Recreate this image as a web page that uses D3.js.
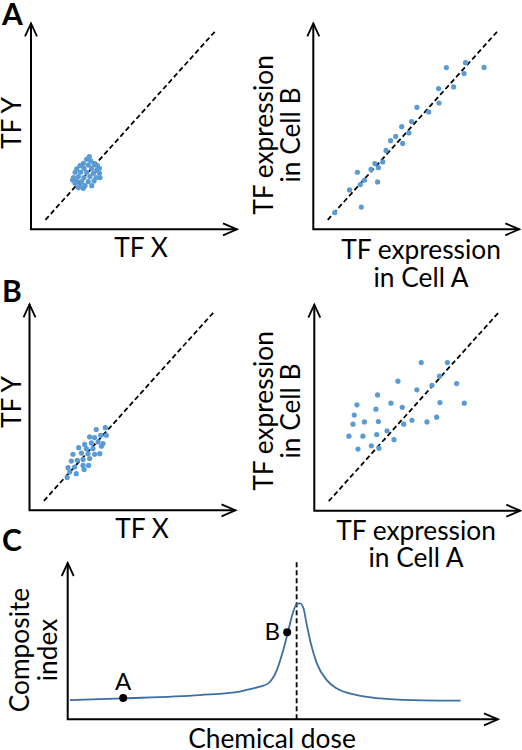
<!DOCTYPE html>
<html><head><meta charset="utf-8">
<script src="https://cdn.jsdelivr.net/npm/d3@7"></script>
<style>body{margin:0;background:#fff}svg{display:block}</style>
</head><body>
<script>
// ---------------- DATA ----------------
// identity (dashed) line in panel units
const diagX = [7, 90];
const diagY = [4.6, 96.8];

// Panel A left: tight cluster
const aLeftX = [27.0,29.0,25.4,30.6,23.8,27.8,32.2,22.2,25.7,29.5,31.9,21.4,24.1,27.0,30.3,33.2,20.6,23.0,25.7,28.6,31.6,22.2,24.6,27.8,30.6,23.8,26.2,29.5,21.4,33.2,28.3,33.5,20.2,23.0,25.4];
const aLeftY = [34.0,33.2,32.0,32.0,30.9,31.2,30.9,29.3,29.6,29.6,28.6,27.7,27.7,27.7,27.2,27.2,25.1,25.6,25.1,25.6,25.1,23.5,23.1,23.1,23.5,21.5,21.2,21.2,22.3,29.6,35.3,25.1,23.9,20.2,19.9];

// Panel A right: cells A vs B correlated
const aRightX = [21.4,17.6,23.3,10.4,22.8,24.8,31.2,28.0,29.9,31.6,33.7,35.3,37.5,40.0,43.4,42.9,46.4,47.7,50.3,56.0,60.8,61.0,64.6,68.1,73.2,73.9,82.9];
const aRightY = [27.7,19.1,10.8,8.1,21.7,23.8,23.0,29.1,31.9,29.9,32.7,38.3,43.0,45.1,41.7,49.8,46.8,52.3,59.2,57.0,68.3,61.3,78.5,69.1,75.6,80.9,78.6];

// Panel B left: looser cluster
const bLeftX = [32.4,36.8,29.2,31.6,34.6,37.3,26.8,30.0,33.3,35.7,23.9,27.6,30.8,34.9,21.1,25.2,28.4,31.6,34.1,20.3,23.2,26.0,29.2,18.7,21.9,26.0,28.7,19.5,22.7,26.5,18.3];
const bLeftY = [39.2,40.1,35.6,35.3,36.4,36.4,32.0,32.7,33.2,32.4,30.4,29.9,29.9,31.1,27.2,27.8,27.5,27.2,27.5,23.9,24.3,24.6,25.1,20.7,21.0,21.8,21.8,18.6,17.8,19.8,15.9];

// Panel B right: cells A vs B weakly correlated
const bRightX = [51.9,64.6,40.6,60.8,69.1,57.1,49.8,30.7,20.7,29.9,37.2,42.7,61.0,72.8,19.4,18.8,24.3,31.1,43.4,47.4,54.7,59.4,16.8,23.6,30.3,35.3,38.7,27.7,31.4,21.2];
const bRightY = [71.9,71.9,62.9,65.3,61.7,60.9,58.7,56.2,51.4,49.3,52.2,50.2,52.5,52.2,46.4,42.0,43.1,43.3,42.0,43.9,43.1,45.4,36.2,36.2,37.0,38.8,34.5,31.5,30.3,29.9];

// Panel C: composite index vs chemical dose
const doseValues  = [0.5,12.9,30.7,40.0,43.1,44.7,46.6,48.6,50.1,51.3,52.3,53.2,54.0,54.8,55.5,56.5,57.9,60.2,62.5,67.2,72.6,80.3,91.3];
const indexValues = [12.3,13.4,15.5,17.7,19.8,20.9,23.0,31.5,44.3,57.1,67.8,73.6,74.2,71.0,61.4,48.6,35.8,25.1,19.8,15.5,13.4,12.3,11.9];
const markerLabels = ["A", "B"];
const markerDose   = [12.9, 51.0];
const markerIndex  = [13.6, 55.7];
const thresholdDose = 53.2;

const panelLetters = ["A", "B", "C"];

// ---------------- DRAW ----------------
const W = 522, H = 750;
const FONT = "Lato, 'Open Sans', sans-serif";
const FS = 26.3;
const dotColor = "#5b9bd5";
const curveColor = "#3d6fa5";

const svg = d3.select("body").append("svg").attr("width", W).attr("height", H);

function arrowAxes(g, x, y) {
  const [x0, x1] = x.range();
  const [y0, y1] = y.range();
  g.append("path").attr("d", `M${x0},${y1}L${x0},${y0}L${x1},${y0}`)
    .attr("fill", "none").attr("stroke", "#000").attr("stroke-width", 2);
  g.append("path").attr("d", `M${x0-6},${y1+13}L${x0},${y1}L${x0+6},${y1+13}`)
    .attr("fill", "none").attr("stroke", "#000").attr("stroke-width", 1.8);
  g.append("path").attr("d", `M${x1-14},${y0-6}L${x1},${y0}L${x1-14},${y0+6}`)
    .attr("fill", "none").attr("stroke", "#000").attr("stroke-width", 1.8);
}

// multi-line label as one text element with tspans; (x,y) = anchor of the last line's baseline
function text(lines, x, y, opts) {
  const g = svg.append("g").attr("transform", `translate(${x},${y})` + (opts.rotate ? " rotate(-90)" : ""));
  const t = g.append("text").attr("text-anchor", "middle").attr("font-family", FONT)
    .attr("font-size", opts.size || FS).attr("fill", "#000");
  lines.forEach((s, i) => {
    t.append("tspan").attr("x", 0).attr("y", (i - (lines.length - 1)) * opts.lh).text(s);
  });
}

const scatterPanels = [
  {ox: 31,    oy: 229.3, xs: aLeftX,  ys: aLeftY},
  {ox: 313.3, oy: 229.3, xs: aRightX, ys: aRightY},
  {ox: 29.5,  oy: 510.3, xs: bLeftX,  ys: bLeftY},
  {ox: 314.3, oy: 510.7, xs: bRightX, ys: bRightY}
];
const LEN = 206;

scatterPanels.forEach(p => {
  const x = d3.scaleLinear().domain([0, 100]).range([p.ox, p.ox + LEN]);
  const y = d3.scaleLinear().domain([0, 100]).range([p.oy, p.oy - LEN]);
  const g = svg.append("g");
  arrowAxes(g, x, y);
  g.append("line")
    .attr("x1", x(diagX[0])).attr("y1", y(diagY[0]))
    .attr("x2", x(diagX[1])).attr("y2", y(diagY[1]))
    .attr("stroke", "#000").attr("stroke-width", 1.8).attr("stroke-dasharray", "5,3");
  g.selectAll("circle").data(d3.range(p.xs.length)).join("circle")
    .attr("cx", i => x(p.xs[i])).attr("cy", i => y(p.ys[i]))
    .attr("r", 2.6).attr("fill", dotColor);
});

// axis titles for scatter panels
text(["TF Y"], 21, 123, {rotate: true, lh: 27});
text(["TF X"], 141, 257, {lh: 27});
text(["TF expression", "in Cell B"], 300, 135, {rotate: true, lh: 27.2});
text(["TF expression", "in Cell A"], 421, 286.5, {lh: 27.4});
text(["TF Y"], 21, 402, {rotate: true, lh: 27});
text(["TF X"], 142, 538, {lh: 27});
text(["TF expression", "in Cell B"], 300, 411, {rotate: true, lh: 27.2});
text(["TF expression", "in Cell A"], 416, 567, {lh: 27.4});

// Panel C
{
  const x = d3.scaleLinear().domain([0, 100]).range([67.7, 498]);
  const y = d3.scaleLinear().domain([0, 100]).range([719.3, 563]);
  const g = svg.append("g");
  g.append("line").attr("x1", x(thresholdDose)).attr("x2", x(thresholdDose))
    .attr("y1", y(0)).attr("y2", y(101.5))
    .attr("stroke", "#000").attr("stroke-width", 1.8).attr("stroke-dasharray", "5,3");
  arrowAxes(g, x, y);
  const line = d3.line().x(i => x(doseValues[i])).y(i => y(indexValues[i])).curve(d3.curveMonotoneX);
  g.append("path").attr("d", line(d3.range(doseValues.length)))
    .attr("fill", "none").attr("stroke", curveColor).attr("stroke-width", 1.8);
  markerLabels.forEach((lab, i) => {
    g.append("circle").attr("cx", x(markerDose[i])).attr("cy", y(markerIndex[i])).attr("r", 4).attr("fill", "#000");
  });
  g.append("text").attr("x", x(markerDose[0])).attr("y", y(markerIndex[0]) - 8)
    .attr("text-anchor", "middle").attr("font-family", FONT).attr("font-size", 24).text(markerLabels[0]);
  g.append("text").attr("x", x(markerDose[1]) - 7).attr("y", y(markerIndex[1]) + 8)
    .attr("text-anchor", "end").attr("font-family", FONT).attr("font-size", 24).text(markerLabels[1]);
}
text(["Composite", "index"], 56.5, 650, {rotate: true, lh: 27.4});
text(["Chemical dose"], 272, 748, {lh: 27});

// panel letters
[[2, 25], [2, 302], [2, 551]].forEach((pos, i) => {
  svg.append("text").attr("x", pos[0]).attr("y", pos[1])
    .attr("font-family", FONT).attr("font-weight", "bold").attr("font-size", 30)
    .text(panelLetters[i]);
});
</script>
</body></html>
